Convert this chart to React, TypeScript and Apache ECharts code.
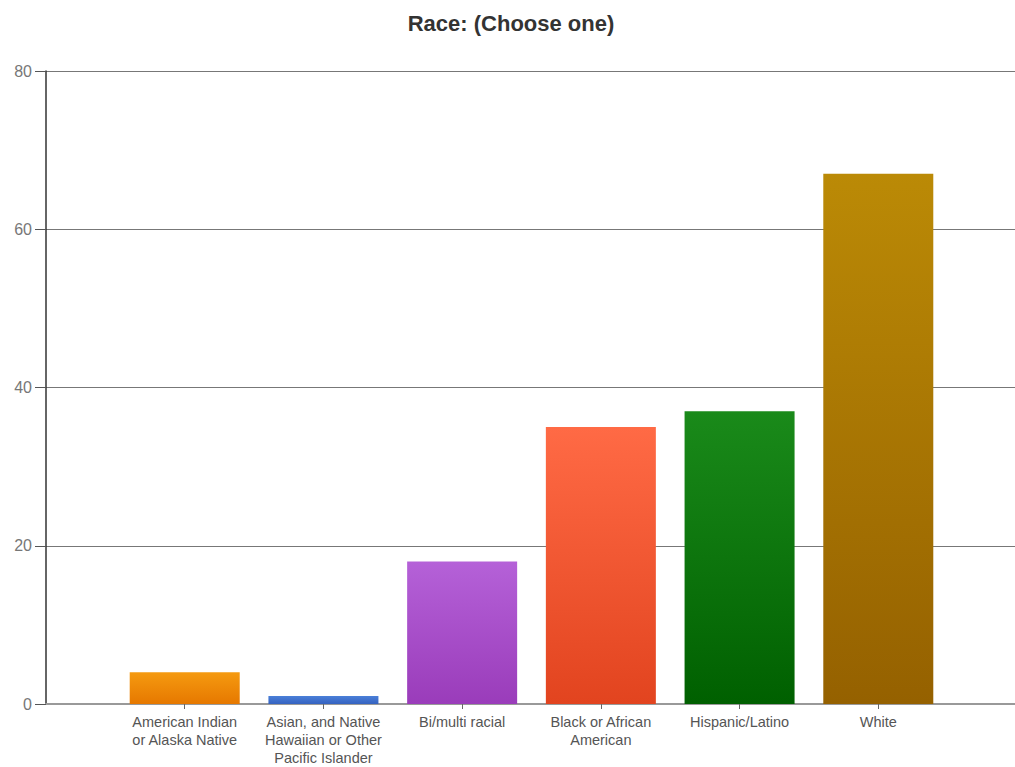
import React, { useEffect, useRef } from "react";
import * as echarts from "echarts";

const categories = [
  "",
  "American Indian\nor Alaska Native",
  "Asian, and Native\nHawaiian or Other\nPacific Islander",
  "Bi/multi racial",
  "Black or African\nAmerican",
  "Hispanic/Latino",
  "White",
  "",
];
const values = [null, 4, 1, 18, 35, 37, 67, null];
const topColors = ["", "#f59a10", "#4a7fd8", "#b561d8", "#ff6a45", "#1a8a1a", "#bb8a06", ""];
const bottomColors = ["", "#e67800", "#3562c0", "#9a3cba", "#e2441f", "#006000", "#956100", ""];
const yTicks = [0, 20, 40, 60, 80];

export default function App() {
  const ref = useRef<HTMLDivElement>(null);
  useEffect(() => {
    if (!ref.current) return;
    const chart = echarts.init(ref.current, null, { renderer: "svg" });
    chart.setOption({
      animation: false,
      backgroundColor: "#ffffff",
      title: {
        text: "Race: (Choose one)",
        left: 506,
        textAlign: "center",
        top: 7,
        textStyle: { fontFamily: "Liberation Sans", fontSize: 22, fontWeight: "bold", color: "#333" },
      },
      grid: { left: 46, right: 0, top: 71, bottom: 61, containLabel: false },
      xAxis: {
        type: "category",
        data: categories,
        boundaryGap: false,
        axisLine: { lineStyle: { color: "#999", width: 2 } },
        axisTick: { show: true, alignWithLabel: true, length: 5, lineStyle: { color: "#666" },
          interval: (i: number) => i > 0 && i < categories.length - 1 },
        axisLabel: {
          interval: 0,
          fontFamily: "Liberation Sans",
          fontSize: 14.5,
          color: "#555",
          lineHeight: 18,
          margin: 9,
        },
        splitLine: { show: false },
      },
      yAxis: {
        type: "value",
        min: yTicks[0],
        max: yTicks[yTicks.length - 1],
        interval: 20,
        axisLine: { show: true, lineStyle: { color: "#333", width: 1.5 } },
        axisTick: { show: true, length: 11, lineStyle: { color: "#555" } },
        axisLabel: { fontFamily: "Liberation Sans", fontSize: 16, color: "#777", margin: 14 },
        splitLine: { show: true, lineStyle: { color: "#777", width: 1.2 } },
      },
      series: [
        {
          type: "bar",
          barWidth: 110,
          data: values.map((v, i) =>
            v == null
              ? null
              : {
                  value: v,
                  itemStyle: {
                    color: new echarts.graphic.LinearGradient(0, 0, 0, 1, [
                      { offset: 0, color: topColors[i] },
                      { offset: 1, color: bottomColors[i] },
                    ]),
                  },
                }
          ),
        },
      ],
    });
    return () => chart.dispose();
  }, []);
  return <div ref={ref} style={{ position: "fixed", left: 0, top: 0, width: 1020, height: 767 }} />;
}
